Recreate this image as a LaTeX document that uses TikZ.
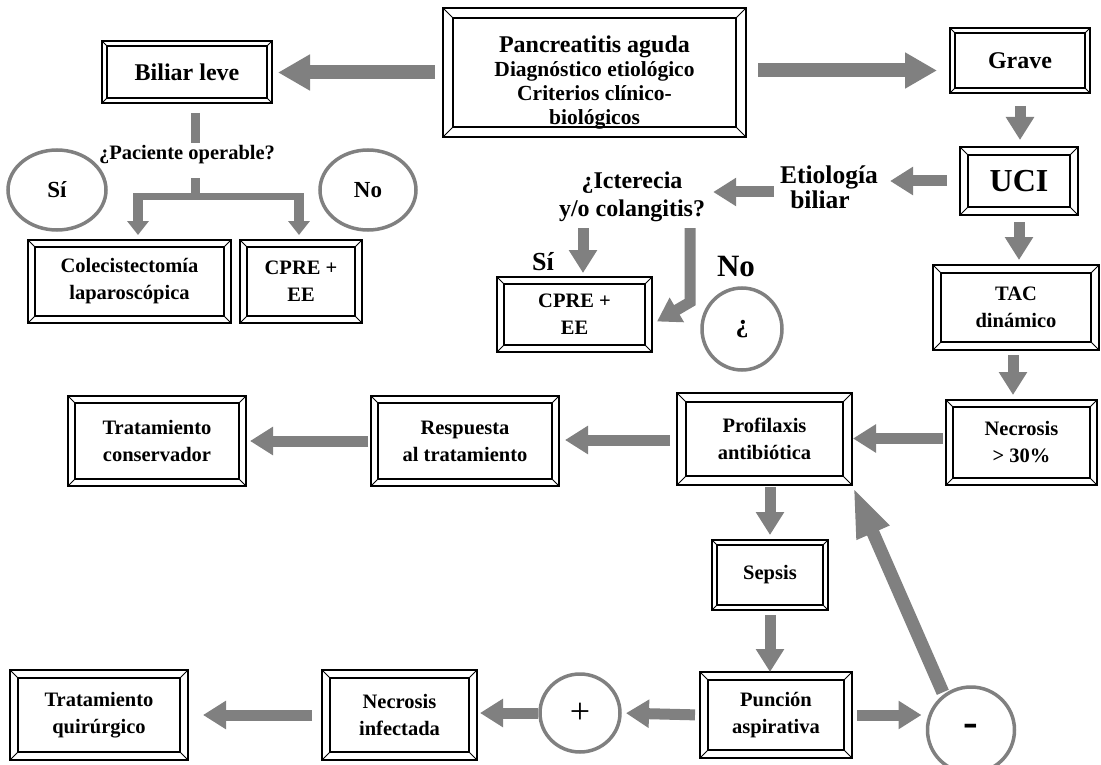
\documentclass[tikz,border=0pt]{standalone}
\usepackage{fontspec}
\setmainfont{Liberation Serif}
\usetikzlibrary{arrows.meta,shapes.geometric,calc}
\definecolor{ag}{HTML}{808080}
\tikzset{
  frame/.style={draw, line width=2.2pt, inner sep=0pt, outer sep=0pt, rectangle},
  innerframe/.style={line width=1.8pt},
  diag/.style={line width=0.9pt},
  lbl/.style={align=center, inner sep=0pt, font=\bfseries\fontsize{20.5}{27}\selectfont},
  arr/.style={draw=ag, line width=11pt, -{Triangle[width=27pt,length=23pt]}},
  smallarr/.style={draw=ag, line width=10pt, -{Triangle[width=21pt,length=14pt]}},
  bigarr/.style={draw=ag, line width=14pt, -{Triangle[width=34pt,length=32pt]}},
  longarr/.style={draw=ag, line width=13pt, -{Triangle[width=32pt,length=50pt]}},
  bar/.style={draw=ag, line width=9pt},
  circ/.style={draw=ag, line width=3.5pt, ellipse, inner sep=0pt, outer sep=0pt, font=\bfseries\fontsize{23}{24}\selectfont},
  big/.style={inner sep=0pt, font=\bfseries\fontsize{24}{28}\selectfont, align=center},
}
\newcommand\bevbox[8]{%
  \node[frame, minimum width={(#4-#2)*1pt}, minimum height={(#5-#3)*1pt}] (#1) at ({(#2+#4)/2},{(#3+#5)/2}) {};
  \draw[innerframe] ([shift={(#6,#6)}]#1.north west) rectangle ([shift={(-#6,-#6)}]#1.south east);
  \draw[diag] (#1.north west) -- ++(#6,#6) (#1.north east) -- ++(-#6,#6)
              (#1.south west) -- ++(#6,-#6) (#1.south east) -- ++(-#6,-#6);
  \node[lbl] (#1-t) at ([shift={(0,#7)}]#1.center) {#8};
}
\begin{document}
\begin{tikzpicture}[x=1pt,y=-1pt]
\fill[white] (0,0) rectangle (1101,765);
\useasboundingbox (0,0) rectangle (1101,765);

% boxes
\bevbox{main}{443}{8}{746}{137}{10}{10}{{\fontsize{24}{24}\selectfont Pancreatitis aguda}\\[-3pt]{\fontsize{21.5}{24}\selectfont Diagnóstico etiológico}\\[-3pt]{\fontsize{21.5}{24}\selectfont Criterios clínico-}\\[-3pt]{\fontsize{21.5}{24}\selectfont biológicos}}
\bevbox{biliar}{102}{41}{272}{103}{5}{0}{{\fontsize{24}{24}\selectfont Biliar leve}}
\bevbox{grave}{950}{28}{1090}{93}{5}{0}{{\fontsize{24}{24}\selectfont Grave}}
\bevbox{uci}{960}{147}{1078}{215}{8}{0}{{\fontsize{32}{32}\selectfont UCI}}
\bevbox{tac}{933}{265}{1099}{350}{8}{0}{TAC\\dinámico}
\bevbox{colec}{28}{240}{231}{323}{7}{0}{Colecistectomía\\laparoscópica}
\bevbox{cpreA}{240}{240}{362}{323}{7}{0}{CPRE +\\EE}
\bevbox{cpreB}{497}{277}{652}{352}{7}{0}{CPRE +\\EE}
\bevbox{necA}{946}{400}{1097}{485}{7}{0}{Necrosis\\> 30\%}
\bevbox{profil}{677}{393}{852}{485}{9}{0}{Profilaxis\\antibiótica}
\bevbox{resp}{371}{396}{559}{486}{7}{0}{Respuesta\\al tratamiento}
\bevbox{cons}{68}{396}{246}{486}{7}{0}{Tratamiento\\conservador}
\bevbox{sepsis}{712}{540}{828}{610}{5}{0}{Sepsis}
\bevbox{punc}{700}{672}{852}{758}{8}{0}{Punción\\aspirativa}
\bevbox{necB}{322}{670}{477}{760}{8}{0}{Necrosis\\infectada}
\bevbox{quir}{10}{670}{188}{760}{8}{0}{Tratamiento\\quirúrgico}

% labels
\node[lbl] (q) at (187,155) {¿Paciente operable?};
\node[big, font=\bfseries\fontsize{25.5}{28}\selectfont] (etio) at (829,187) {Etiología\\[-3pt]biliar\kern18pt};
\node[big] (ict) at (632,197) {¿Icterecia\\[0pt]y/o colangitis?};
\node[inner sep=0pt, font=\bfseries\fontsize{26}{26}\selectfont] (si2) at (543,262) {Sí};
\node[inner sep=0pt, font=\bfseries\fontsize{31}{31}\selectfont] (no2) at (736,267) {No};

% circles
\node[circ, minimum width=98pt, minimum height=80pt] (si1) at (57,190) {Sí};
\node[circ, minimum width=96pt, minimum height=80pt] (no1) at (368,190) {No};
\node[circ, minimum width=80pt, minimum height=82pt, font=\bfseries\fontsize{26}{26}\selectfont] (qc) at (742,329) {¿};
\node[circ, minimum width=80pt, minimum height=78pt, font=\fontsize{36}{36}\selectfont] (plus) at (580,713) {+};
\node[circ, minimum width=87pt, minimum height=86pt, font=\bfseries\fontsize{44}{44}\selectfont] (minus) at (971,730) {-};

% connectors
\draw[bigarr, shorten <=8pt, shorten >=6pt] (main.west) -- (main.west -| biliar.east);
\draw[bigarr, shorten <=12pt, shorten >=13pt] ([yshift=2pt]main.east) -- ([yshift=2pt]main.east -| grave.west);
\draw[bar, shorten <=10pt, shorten >=3pt] ([xshift=8pt]biliar.south) -- ([xshift=8pt]biliar.south |- q.north);
\coordinate (fork) at ($(biliar.south)+(8,94)$);
\coordinate (forkL) at ($(colec.north)+(8.5,-43)$);
\coordinate (forkR) at ($(cpreA.north)+(-2,-43)$);
\coordinate (forkS) at ($(q.south -| fork)+(0,14)$);
\draw[bar] (forkS) -- (fork);
\draw[bar, line width=7pt] ([xshift=-5pt]forkL) -- ([xshift=5pt]forkR);
\draw[smallarr, shorten >=5pt] ($(forkL)+(0,-3.5)$) -- (forkL |- colec.north);
\draw[smallarr, shorten >=5pt] ($(forkR)+(0,-3.5)$) -- (forkR |- cpreA.north);

\draw[arr, shorten <=13pt, shorten >=7pt] (grave.south) -- (grave.south |- uci.north);
\draw[arr, shorten <=13pt, shorten >=12pt] (uci.west) -- (uci.west -| etio.east);
\coordinate (e1) at ($(etio.west)+(-6,5)$);
\draw[arr, shorten >=8pt] (e1) -- (e1 -| ict.east);
\coordinate (s1) at ($(ict.south)+(-49,6)$);
\draw[arr, shorten >=4pt] (s1) -- (s1 |- cpreB.north);
\coordinate (n1) at ($(ict.south)+(58,6)$);
\coordinate (n2) at ($(ict.south)+(58,80)$);
\draw[arr] (n1) -- (n2) -- ($(cpreB.east)+(5,7)$);
\draw[arr, shorten <=7pt, shorten >=5pt] (uci.south) -- (uci.south |- tac.north);
\draw[arr, shorten <=5pt, shorten >=5pt] ([xshift=-3pt]tac.south) -- ([xshift=-3pt]tac.south |- necA.north);
\coordinate (p1) at ($(necA.west)+(-3,-4)$);
\draw[arr, shorten >=1pt] (p1) -- (p1 -| profil.east);
\coordinate (r1) at ($(profil.west)+(-7,1)$);
\draw[arr, shorten >=6pt] (r1) -- (r1 -| resp.east);
\draw[arr, shorten <=3pt, shorten >=4pt] (resp.west) -- (resp.west -| cons.east);
\draw[arr, shorten <=2pt, shorten >=5pt] (sepsis.north |- profil.south) -- (sepsis.north);
\draw[arr, shorten <=5pt, shorten >=0pt] (sepsis.south) -- (sepsis.south |- punc.north);
\draw[arr, shorten <=5pt, shorten >=6pt] (punc.west) -- (plus.east);
\draw[arr, shorten <=5pt, shorten >=6pt] (punc.east) -- (minus.west |- punc.east);
\draw[longarr, shorten <=4pt, shorten >=0pt] (minus.128) -- ($(profil.south east)+(1,2)$);
\draw[arr, shorten <=2pt, shorten >=3pt] (plus.west) -- (plus.west -| necB.east);
\draw[arr, shorten <=10pt, shorten >=15pt] (necB.west) -- (necB.west -| quir.east);
\end{tikzpicture}
\end{document}
